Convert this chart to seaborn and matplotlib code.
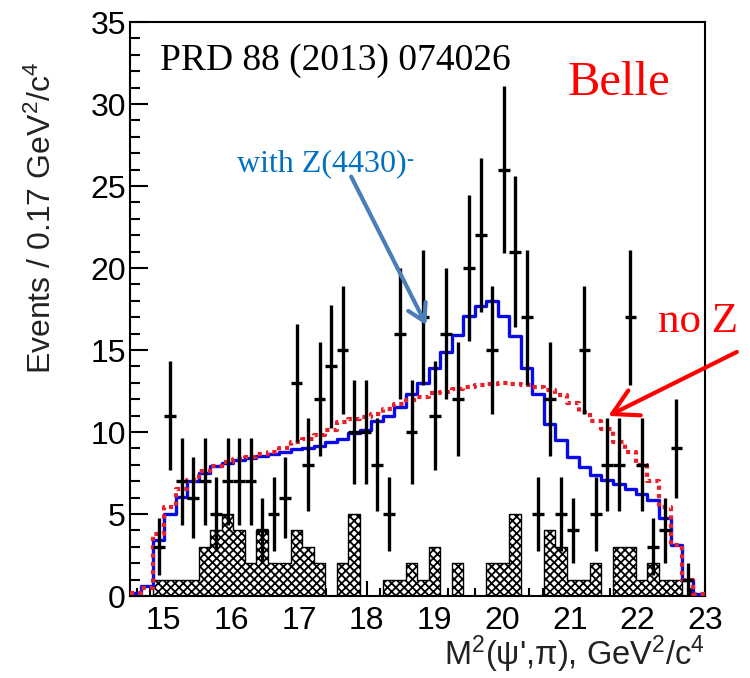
import matplotlib
matplotlib.use('Agg')
import matplotlib.pyplot as plt
import numpy as np
import pandas as pd
import seaborn as sns
from matplotlib.ticker import MultipleLocator

sns.set_theme(style='ticks')
plt.rcParams['font.family'] = ['Liberation Sans', 'DejaVu Sans']
plt.rcParams['mathtext.default'] = 'regular'
plt.rcParams['hatch.linewidth'] = 1.3

SERIF = ['Liberation Serif', 'DejaVu Serif']

# binning of M^2(psi', pi): 50 bins of 0.17 GeV^2/c^4
X_MIN, X_MAX, BIN_WIDTH = 14.5, 23.0, 0.17

# events per bin (data points, Poisson errors)
data_counts = [0, 0, 3, 11, 7, 6, 7, 5, 7, 7,
               7, 4, 5, 6, 13, 8, 12, 14, 15, 10,
               10, 8, 5, 16, 10, 17, 11, 16, 12, 20,
               22, 15, 26, 21, 17, 5, 12, 5, 4, 15,
               5, 8, 8, 17, 8, 3, 4, 9, 1, 0]

# sideband background (hatched)
background = [0, 0, 1, 1, 1, 1, 3, 4, 5, 4,
              2, 4, 2, 2, 4, 3, 2, 0, 2, 5,
              0, 0, 1, 1, 2, 1, 3, 0, 2, 0,
              0, 2, 2, 5, 0, 0, 4, 3, 1, 1,
              2, 0, 3, 3, 1, 2, 1, 1, 0, 0]

# fit with Z(4430)- (blue)
fit_with_z = [0.2, 0.6, 3.4, 5.0, 6.05, 7.0, 7.5, 7.9, 8.1, 8.3,
              8.4, 8.55, 8.65, 8.8, 8.95, 9.05, 9.15, 9.4, 9.6, 9.95,
              10.1, 10.7, 11.0, 11.5, 12.3, 13.0, 13.9, 14.9, 15.9, 17.05,
              17.7, 18.0, 17.1, 15.85, 13.9, 12.3, 10.5, 9.5, 8.5, 7.85,
              7.4, 7.1, 6.85, 6.55, 6.25, 5.85, 4.75, 3.1, 1.0, 0.15]

# fit without Z (red dotted)
fit_no_z = [0.2, 0.5, 3.8, 5.4, 6.5, 7.1, 7.6, 7.9, 8.2, 8.35,
            8.5, 8.65, 8.8, 9.0, 9.4, 9.6, 9.8, 10.1, 10.6, 10.8,
            10.9, 11.1, 11.4, 11.7, 11.95, 12.15, 12.35, 12.45, 12.6, 12.75,
            12.85, 12.95, 13.0, 12.95, 12.85, 12.75, 12.55, 12.25, 11.75, 11.25,
            10.7, 10.2, 9.4, 8.8, 8.0, 7.0, 5.45, 3.1, 1.0, 0.15]

edges = X_MIN + BIN_WIDTH * np.arange(len(data_counts) + 1)
centers = edges[:-1] + BIN_WIDTH / 2

# step tables: one row per bin edge, last value repeated to close the last bin
steps = pd.DataFrame({
    'edge': edges,
    'bkg': background + background[-1:],
    'with_z': fit_with_z + fit_with_z[-1:],
    'no_z': fit_no_z + fit_no_z[-1:],
})
points = pd.DataFrame({'m2': centers, 'n': data_counts})
points = points[points['n'] > 0]

fig = plt.figure(figsize=(7.5, 6.78), dpi=100)
ax = fig.add_axes([130 / 750, 1 - 596 / 678, 575 / 750, 574 / 678])

ax.fill_between(steps['edge'], 0, steps['bkg'], step='post', facecolor='white',
                edgecolor='black', hatch='xxxx', linewidth=1.0, zorder=1)
sns.lineplot(data=steps, x='edge', y='with_z', drawstyle='steps-post',
             color='#0a0ae6', linewidth=2.4, ax=ax, zorder=3)
sns.lineplot(data=steps, x='edge', y='no_z', drawstyle='steps-post',
             color='#e8202a', linewidth=3.0, linestyle=(0, (1, 1)), ax=ax, zorder=4)

ax.errorbar(points['m2'], points['n'], yerr=np.sqrt(points['n']), xerr=BIN_WIDTH / 2,
            fmt='none', ecolor='black', elinewidth=2.4, capsize=0, zorder=5)

ax.set_xlim(X_MIN, X_MAX)
ax.set_ylim(0, 35)
ax.set_xticks(range(15, 24))
ax.set_yticks(range(0, 36, 5))
ax.xaxis.set_minor_locator(MultipleLocator(0.2))
ax.yaxis.set_minor_locator(MultipleLocator(1))
ax.tick_params(which='both', direction='in', top=False, right=False, width=1.5,
               colors='black', labelsize=23)
ax.tick_params(axis='x', which='major', length=11, pad=7)
ax.tick_params(axis='x', which='minor', length=6)
ax.tick_params(axis='y', which='major', length=13, pad=3)
ax.tick_params(axis='y', which='minor', length=7.5)
for side in ax.spines.values():
    side.set_visible(True)
    side.set_color('black')
    side.set_linewidth(1.5)

ax.set_xlabel("M$^{2}$(ψ',π), GeV$^{2}$/c$^{4}$", fontsize=23.5, loc='right', color='#222222')
ax.xaxis.set_label_coords(1.0, -0.065)
ax.set_ylabel('Events / 0.17 GeV$^{2}$/c$^{4}$', fontsize=23, loc='top', color='#222222')
ax.yaxis.set_label_coords(-0.125, 0.93)

ax.text(14.94, 32.07, 'PRD 88 (2013) 074026', family=SERIF, fontsize=27,
        va='baseline', color='black')
ax.text(20.965, 30.55, 'Belle', family=SERIF, fontsize=35, va='baseline', color='red')
with_z = ax.text(16.08, 25.93, 'with Z(4430)', family=SERIF, fontsize=23,
                 va='baseline', color='#0070c0')
ax.annotate('-', xy=(1.0, 0.93), xycoords=with_z, ha='left', va='top',
            family=SERIF, fontsize=15, color='#0070c0')
ax.text(22.31, 16.1, 'no Z', family=SERIF, fontsize=31, va='baseline', color='red')

ax.annotate('', xy=(18.88, 16.52), xytext=(17.77, 25.57),
            arrowprops=dict(arrowstyle='->,head_length=0.6,head_width=0.35',
                            color='#4a7ebb', lw=3, mutation_scale=20,
                            shrinkA=0, shrinkB=0), zorder=6)
ax.annotate('', xy=(21.57, 10.98), xytext=(23.47, 14.88),
            arrowprops=dict(arrowstyle='->,head_length=0.9,head_width=0.5',
                            color='red', lw=3, mutation_scale=20,
                            shrinkA=0, shrinkB=0),
            annotation_clip=False, zorder=6)

fig.savefig('out.png', dpi=100, facecolor='white')
plt.close(fig)
